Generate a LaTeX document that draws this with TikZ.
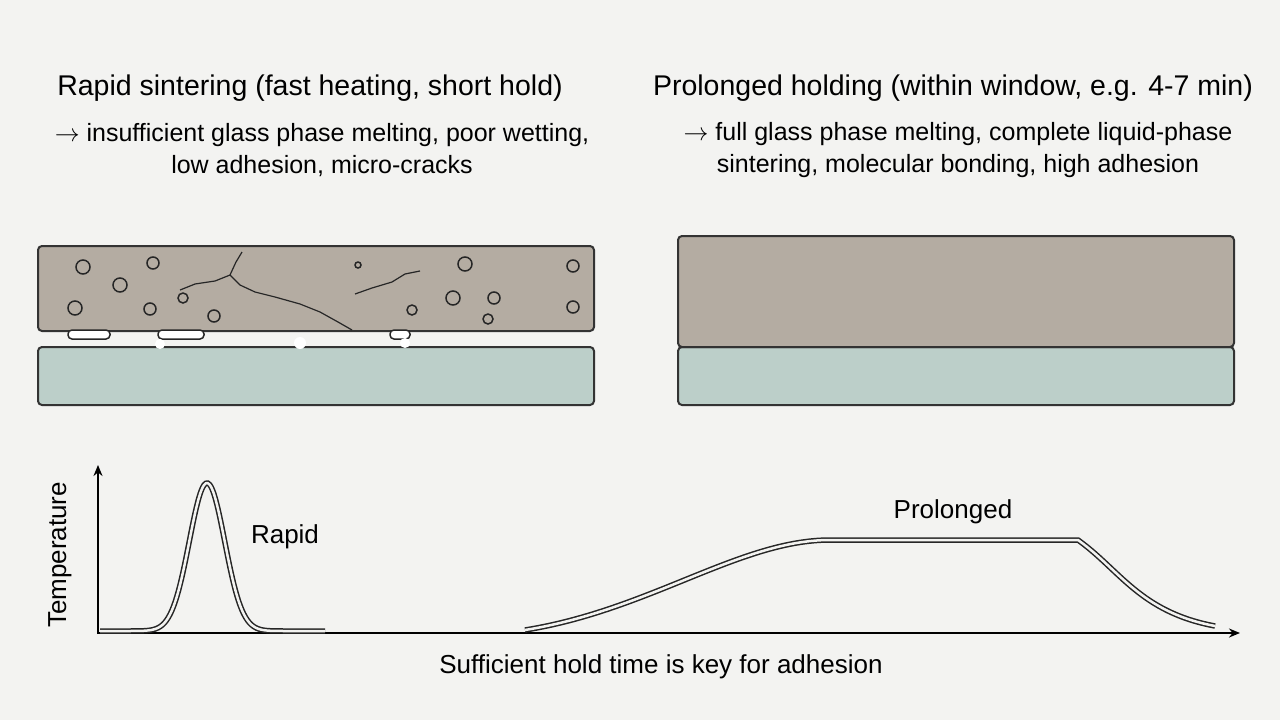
\documentclass[tikz,border=0pt]{standalone}
\usepackage{fontspec}
\setmainfont{Liberation Sans}
\usetikzlibrary{arrows.meta}
\definecolor{bg}{HTML}{F3F3F1}
\definecolor{coat}{HTML}{B4ACA2}
\definecolor{glass}{HTML}{BCCFC9}
\begin{document}
\begin{tikzpicture}[x=1pt,y=-1pt,>={Stealth[length=11pt,width=9pt]},
    layer/.style={draw=black!80, line width=2pt, rounded corners=4pt},
    pore/.style={draw=black!85, line width=1.5pt},
    crack/.style={black!85, line width=1.2pt},
    curve/.style={double=bg, double distance=2.5pt, line width=1.5pt, black!85},
    title/.style={font=\fontsize{28.5}{32}\selectfont},
    sub/.style={font=\fontsize{25}{32}\selectfont, align=center},
    lab/.style={font=\fontsize{26}{28}\selectfont}]
\useasboundingbox[fill=bg] (0,0) rectangle (1280,720);
% headings
\node[title] (tl) at (310,88) {Rapid sintering (fast heating, short hold)};
\node[sub] (sl) at (322,150) {$\rightarrow$ insufficient glass phase melting, poor wetting,\\low adhesion, micro-cracks};
\node[title] (tr) at (953,88) {Prolonged holding (within window, e.g. 4-7 min)};
\node[sub] (sr) at (958,150) {$\rightarrow$ full glass phase melting, complete liquid-phase\\sintering, molecular bonding, high adhesion};
% left sample
\draw[layer, fill=glass] (38,347) rectangle (594,405);
\draw[layer, fill=coat] (38,246) rectangle (594,331);
\foreach \x/\y/\r in {83/267/7, 153/263/6, 120/285/7, 75/308/7, 150/309/6, 183/298/5,
    214/316/6, 465/264/7, 573/266/6, 494/298/6, 453/298/7, 412/310/5, 488/319/5,
    573/307/6, 358/265/3}
{
    \draw[pore] (\x,\y) circle (\r);
}
\draw[crack] (242,252) -- (236,262) -- (230,275) -- (215,281) -- (195,284) -- (180,290);
\draw[crack] (230,275) -- (240,285) -- (255,292) -- (275,297) -- (300,304) -- (320,312) -- (338,322) -- (352,330);
\draw[crack] (420,271) -- (405,274) -- (392,282) -- (372,288) -- (355,294);
\foreach \a/\b in {68/110, 158/204, 390/410}
{
    \draw[pore, fill=white, rounded corners=4pt] (\a,330) rectangle (\b,339);
}
\fill[white] (160,344) circle (5);
\fill[white] (300,343) circle (6);
\fill[white] (405,343) circle (5);
% right sample
\draw[layer, fill=glass] (678,347) rectangle (1234,405);
\draw[layer, fill=coat] (678,236) rectangle (1234,347);
% chart
\draw[->, line width=2pt] (98,634) -- (98,465);
\draw[->, line width=2pt] (97,633) -- (1240,633);
\node[rotate=90, lab] (ylab) at (60,555) {Temperature};
\draw[curve, domain=100:325, samples=120, smooth] plot (\x, {631-148*exp(-((\x-207)/25)^2)});
\draw[curve] (525,630) .. controls (650,610) and (740,540) .. (830,540) -- (1078,540)
    .. controls (1120,570) and (1140,612) .. (1215,626);
\node[lab] (rap) at (285,537) {Rapid};
\node[lab] (pro) at (953,512) {Prolonged};
\node[lab] (cap) at (661,667) {Sufficient hold time is key for adhesion};
\end{tikzpicture}
\end{document}
